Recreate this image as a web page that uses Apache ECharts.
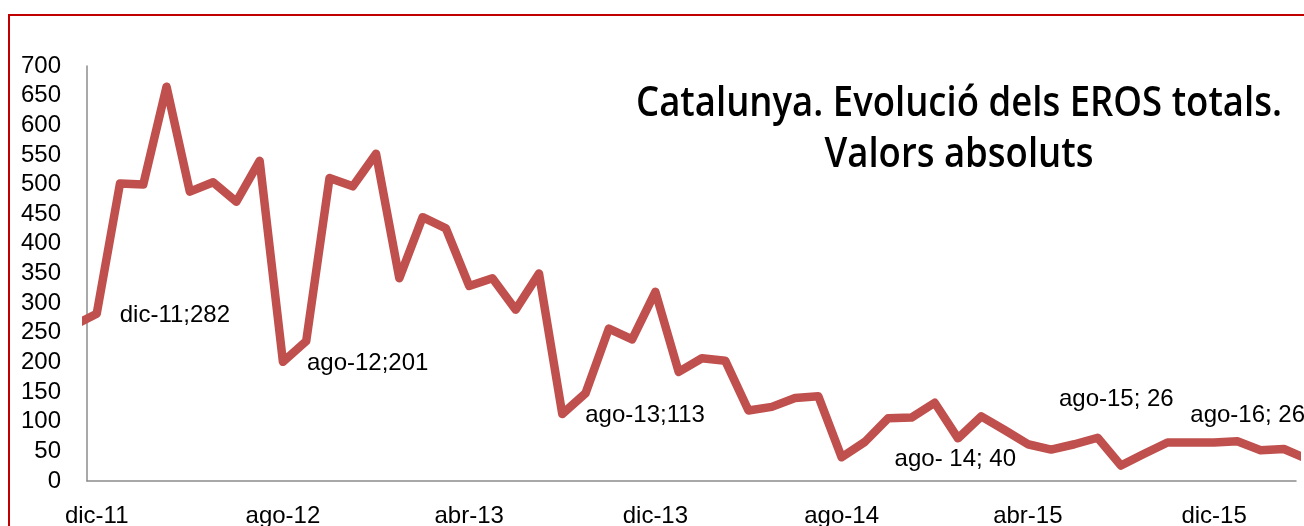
<!DOCTYPE html>
<html>
<head>
<meta charset="utf-8">
<script src="https://cdn.jsdelivr.net/npm/echarts@6/dist/echarts.min.js"></script>
<style>
html,body{margin:0;padding:0;background:#fff;}
#chart{width:1304px;height:526px;}
</style>
</head>
<body>
<div id="chart"></div>
<script>
// Month categories (index 0 = nov-11)
var months = ['nov-11','dic-11',
  'ene-12','feb-12','mar-12','abr-12','may-12','jun-12','jul-12','ago-12','sep-12','oct-12','nov-12','dic-12',
  'ene-13','feb-13','mar-13','abr-13','may-13','jun-13','jul-13','ago-13','sep-13','oct-13','nov-13','dic-13',
  'ene-14','feb-14','mar-14','abr-14','may-14','jun-14','jul-14','ago-14','sep-14','oct-14','nov-14','dic-14',
  'ene-15','feb-15','mar-15','abr-15','may-15','jun-15','jul-15','ago-15','sep-15','oct-15','nov-15','dic-15',
  'ene-16','feb-16','mar-16','abr-16','may-16','jun-16','jul-16','ago-16'];
// EROS totals (last visible one is partly cut)
var eros = [262,282,
  502,500,665,488,504,471,540,201,236,511,497,552,
  342,445,426,329,342,289,350,113,148,257,239,319,
  184,207,203,119,125,140,143,40,66,106,107,132,
  72,109,86,62,53,62,73,26,46,65,65,65,
  67,52,54,37];
// x tick labels
var tickLabels = ['dic-11','ago-12','abr-13','dic-13','ago-14','abr-15','dic-15'];
// y ticks
var yMin = 0, yMax = 700, yStep = 50;
// annotations: month, value, text
var noteMonths = ['dic-11','ago-12','ago-13','ago-14','ago-15','ago-16'];
var noteValues = [282,201,113,40,26,26];
var noteTexts = ['dic-11;282','ago-12;201','ago-13;113','ago- 14; 40','ago-15; 26','ago-16; 26'];
var noteOffsets = [[23,2],[24,2],[23,1],[53,2],[-62,-66],[-210,-50]];
var titleLines = ['Catalunya. Evolució dels EROS totals.', 'Valors absoluts'];

var FONT = '"Liberation Sans", Arial, sans-serif';
var TITLE_FONT = '600 41px "Open Sans", "DejaVu Sans Condensed", sans-serif';
// horizontal squeeze so the title has the width of the original condensed face
var ctx = document.createElement('canvas').getContext('2d');
ctx.font = TITLE_FONT;
var titleScale = 646 / ctx.measureText(titleLines[0]).width;

var lineData = eros.map(function(v,i){return [i,v];});
var noteData = noteMonths.map(function(m,k){
  return {
    value:[months.indexOf(m), noteValues[k]],
    label:{show:true, position:'right', distance:0, offset:noteOffsets[k], formatter:noteTexts[k],
           color:'#000', fontFamily:FONT, fontSize:24}
  };
});

var chart = echarts.init(document.getElementById('chart'));
chart.setOption({
  animation:false,
  backgroundColor:'#fff',
  graphic:[{
    type:'rect', silent:true, z:-1,
    shape:{x:9, y:15, width:1400, height:600},
    style:{fill:null, stroke:'#C00000', lineWidth:2}
  }].concat(titleLines.map(function(t,k){
    return {
      type:'text', silent:true, z:10,
      x:959, y:104.5 + k*50.7, scaleX:titleScale,
      style:{text:t, align:'center', verticalAlign:'middle', font:TITLE_FONT, fill:'#000'}
    };
  })),
  grid:{left:87, right:8, top:66, bottom:45, containLabel:false, outerBoundsMode:'none'},
  xAxis:{
    type:'value', min:0.583, max:52.52,
    axisLine:{show:true, lineStyle:{color:'#8c8c8c', width:1.5}},
    axisTick:{show:false},
    splitLine:{show:false},
    axisLabel:{
      customValues: tickLabels.map(function(l){return months.indexOf(l);}),
      formatter:function(v){return months[Math.round(v)];},
      fontFamily:FONT, fontSize:24, color:'#000', margin:23
    }
  },
  yAxis:{
    type:'value', min:yMin, max:yMax, interval:yStep,
    axisLine:{show:true, lineStyle:{color:'#8c8c8c', width:1.5}},
    axisTick:{show:false},
    splitLine:{show:false},
    axisLabel:{fontFamily:FONT, fontSize:24, color:'#000', margin:26}
  },
  series:[{
    type:'line',
    data:lineData,
    showSymbol:false,
    symbol:'none',
    clip:true,
    lineStyle:{color:'#C0504D', width:8.5, cap:'round', join:'round'},
    z:2
  },{
    type:'scatter',
    data:noteData,
    symbolSize:0,
    clip:false,
    itemStyle:{color:'#000', opacity:1},
    z:3
  }]
});
</script>
</body>
</html>
